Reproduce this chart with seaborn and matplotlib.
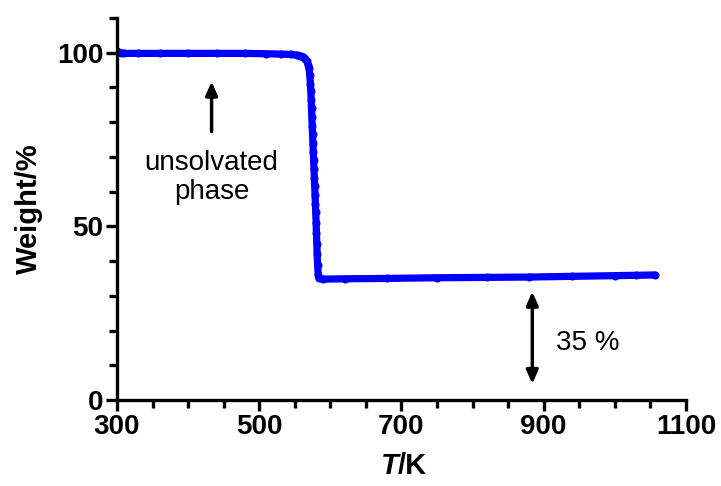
import matplotlib
matplotlib.use("Agg")
import matplotlib.pyplot as plt
import seaborn as sns
import pandas as pd

# Thermogravimetric trace: temperature (K) and remaining weight (%)
temperature = [
    300, 305, 310, 330, 360, 400, 440, 480, 510, 530, 545, 553, 558, 562, 565, 567, 569,
    570, 571, 572, 572.5, 573, 573.5, 574, 574.5, 575, 575.5, 576, 576.5, 577,
    577.5, 578, 578.5, 579, 579.5, 580, 580.5, 581, 581.5, 582, 583, 584,
    590, 620, 680, 750, 820, 880, 940, 1000, 1030, 1056,
]
weight = [
    100.4, 100.0, 99.8, 99.8, 99.8, 99.8, 99.8, 99.8, 99.7, 99.6, 99.5, 99.3, 99.1, 98.8, 98.3, 97.6, 96.5,
    95.5, 93.5, 91.0, 89.0, 86.5, 84.0, 81.5, 79.0, 76.5, 74.0, 71.5, 69.0, 66.5,
    64.0, 61.5, 59.0, 56.5, 54.0, 51.0, 48.0, 45.0, 42.0, 39.0, 36.0, 35.0,
    34.8, 34.9, 35.0, 35.2, 35.3, 35.4, 35.6, 35.8, 35.9, 36.0,
]

x_ticks = [300, 500, 700, 900, 1100]
y_ticks = [0, 50, 100]

df = pd.DataFrame({"T": temperature, "W": weight})

sns.set_style("ticks")
plt.rcParams["font.family"] = ["Liberation Sans", "DejaVu Sans"]
for key in ("text.color", "axes.labelcolor", "xtick.color", "ytick.color", "axes.edgecolor"):
    plt.rcParams[key] = "black"

fig = plt.figure(figsize=(7.21, 4.86), dpi=100)
ax = fig.add_axes([0.1623, 0.177, 0.789, 0.786])

sns.lineplot(data=df, x="T", y="W", ax=ax, color="#0000ff", linewidth=5.2,
             marker="o", markersize=5.8, markeredgewidth=0, sort=True)

ax.set_xlim(300, 1100)
ax.set_ylim(0, 110)
ax.set_xticks(x_ticks)
ax.set_xticks(range(300, 1101, 50), minor=True)
ax.set_yticks(y_ticks)
ax.set_yticks(range(0, 111, 10), minor=True)
ax.set_xticklabels([str(v) for v in x_ticks], fontsize=20, fontweight="bold")
ax.set_yticklabels([str(v) for v in y_ticks], fontsize=20, fontweight="bold")

for s in ("top", "right"):
    ax.spines[s].set_visible(False)
for s in ("left", "bottom"):
    ax.spines[s].set_linewidth(2.4)

ax.tick_params(which="both", direction="out", width=2.4)
ax.tick_params(which="major", length=8, pad=2)
ax.tick_params(which="minor", length=6)

ax.set_xlabel("")
fig.text(0.5515, 0.012, "/K", fontsize=21, fontweight="bold", ha="left", va="bottom")
fig.text(0.5535, 0.012, "T", fontsize=21, fontweight="bold", style="italic", ha="right", va="bottom")

ax.set_ylabel("Weight/%", fontsize=21, fontweight="bold", labelpad=10)

# Annotations
ax.annotate("", xy=(433, 92.5), xytext=(433, 76.5),
            arrowprops=dict(arrowstyle="-|>,head_length=0.8,head_width=0.35", color="black", lw=2.5))
ax.text(433, 64.0, "unsolvated\nphase", fontsize=20, ha="center", va="center", linespacing=1.15)

ax.annotate("", xy=(884, 32), xytext=(884, 3.8),
            arrowprops=dict(arrowstyle="<|-|>,head_length=0.8,head_width=0.35", color="black", lw=2.5))
ax.text(917, 16.5, "35 %", fontsize=20, ha="left", va="center")

fig.savefig("out.png", dpi=100, facecolor="white")
